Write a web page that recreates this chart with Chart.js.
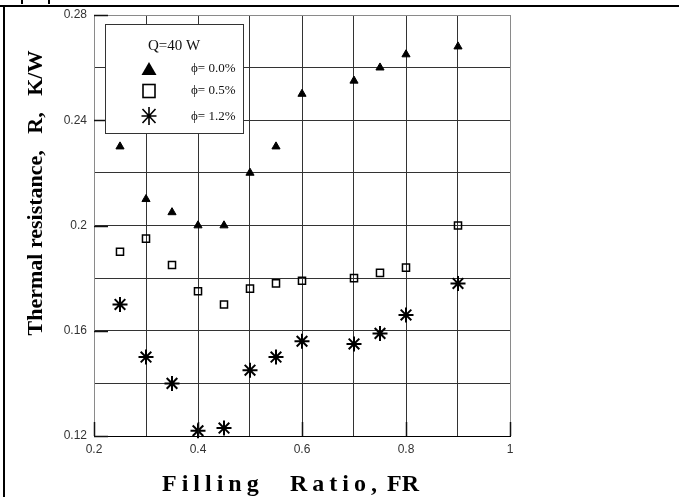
<!DOCTYPE html>
<html><head><meta charset="utf-8">
<script src="https://cdn.jsdelivr.net/npm/chart.js@4"></script>
<style>html,body{margin:0;padding:0;background:#fff}canvas{display:block}</style>
</head><body>
<canvas id="c" width="679" height="497"></canvas>
<script>
const fillingRatio = [0.25, 0.3, 0.35, 0.4, 0.45, 0.5, 0.55, 0.6, 0.7, 0.75, 0.8, 0.9];
const phi00 = [0.230, 0.210, 0.205, 0.200, 0.200, 0.220, 0.230, 0.250, 0.255, 0.260, 0.265, 0.268];
const phi05 = [0.190, 0.195, 0.185, 0.175, 0.170, 0.176, 0.178, 0.179, 0.180, 0.182, 0.184, 0.200];
const phi12 = [0.170, 0.150, 0.140, 0.122, 0.123, 0.145, 0.150, 0.156, 0.155, 0.159, 0.166, 0.178];
const seriesLabels = ['ϕ= 0.0%', 'ϕ= 0.5%', 'ϕ= 1.2%'];
const legendTitle = 'Q=40 W';
const xTickLabels = ['0.2', '0.4', '0.6', '0.8', '1'];
const yTickLabels = ['0.12', '0.16', '0.2', '0.24', '0.28'];
const xTitleWords = ['Filling', 'Ratio,', 'FR'];
const yTitle = 'Thermal resistance,   R,   K/W';

const toPts = ys => fillingRatio.map((x, i) => ({x: x, y: ys[i]}));
const pick = (labels, v) => {
  const s = labels.find(l => Math.abs(parseFloat(l) - v) < 1e-9);
  return s !== undefined ? s : '';
};
const GRID = '#333', EDGE = '#8a8a8a';

const decor = {
  id: 'decor',
  afterDraw(chart) {
    const ctx = chart.ctx, xs = chart.scales.x, ys = chart.scales.y, a = chart.chartArea;
    ctx.save();
    // inward major ticks
    ctx.strokeStyle = '#111'; ctx.lineWidth = 1.5;
    yTickLabels.forEach(l => {
      const y = Math.round(ys.getPixelForValue(parseFloat(l))) + 0.5;
      ctx.beginPath(); ctx.moveTo(a.left, y); ctx.lineTo(a.left + 14, y); ctx.stroke();
    });
    xTickLabels.forEach(l => {
      const x = Math.round(xs.getPixelForValue(parseFloat(l))) + 0.5;
      ctx.beginPath(); ctx.moveTo(x, a.bottom); ctx.lineTo(x, a.bottom - 14); ctx.stroke();
    });
    // legend box
    const bx = 105, by = 24, bw = 138, bh = 109;
    ctx.fillStyle = '#fff'; ctx.fillRect(bx, by, bw, bh);
    ctx.strokeStyle = '#333'; ctx.lineWidth = 1;
    ctx.strokeRect(bx + 0.5, by + 0.5, bw, bh);
    ctx.fillStyle = '#111';
    ctx.font = '15px "Liberation Serif", serif';
    ctx.textAlign = 'center'; ctx.textBaseline = 'middle';
    ctx.fillText(legendTitle, 174, 46);
    ctx.font = '13px "Liberation Serif", "DejaVu Serif", serif';
    ctx.textAlign = 'left';
    const rows = [69, 91, 117];
    rows.forEach((ry, i) => ctx.fillText(seriesLabels[i], 191, ry));
    const mx = 149;
    // triangle
    ctx.beginPath(); ctx.moveTo(mx, rows[0] - 7); ctx.lineTo(mx + 7.5, rows[0] + 6); ctx.lineTo(mx - 7.5, rows[0] + 6); ctx.closePath();
    ctx.fillStyle = '#000'; ctx.fill();
    // square
    ctx.strokeStyle = '#000'; ctx.lineWidth = 1.6;
    ctx.strokeRect(mx - 6, rows[1] - 6.5, 12, 13);
    // asterisk
    const sy = rows[2] - 1;
    ctx.lineWidth = 1.6; ctx.beginPath();
    ctx.moveTo(mx, sy - 9); ctx.lineTo(mx, sy + 9);
    ctx.moveTo(mx - 7.5, sy); ctx.lineTo(mx + 7.5, sy);
    ctx.moveTo(mx - 6.5, sy - 7); ctx.lineTo(mx + 6.5, sy + 7);
    ctx.moveTo(mx + 6.5, sy - 7); ctx.lineTo(mx - 6.5, sy + 7);
    ctx.stroke();
    // axis titles
    ctx.fillStyle = '#000';
    ctx.font = 'bold 22px "Liberation Serif", serif';
    ctx.textBaseline = 'alphabetic';
    ctx.save();
    ctx.translate(42, 193); ctx.rotate(-Math.PI / 2);
    ctx.textAlign = 'center';
    ctx.fillText(yTitle, 0, 0);
    ctx.restore();
    ctx.font = 'bold 24px "Liberation Serif", serif';
    ctx.textAlign = 'left';
    ctx.letterSpacing = '5px'; ctx.fillText(xTitleWords[0], 162, 491);
    ctx.letterSpacing = '5px'; ctx.fillText(xTitleWords[1], 290, 491);
    ctx.letterSpacing = '0px'; ctx.fillText(xTitleWords[2], 387, 491);
    // outer frame
    ctx.fillStyle = '#000';
    ctx.fillRect(0, 5, 679, 2);
    ctx.fillRect(3, 5, 2, 492);
    ctx.fillRect(21, 0, 2, 4);
    ctx.fillRect(48, 0, 2, 4);
    ctx.restore();
  }
};

new Chart(document.getElementById('c'), {
  type: 'scatter',
  data: {
    datasets: [
      {label: seriesLabels[0], data: toPts(phi00), pointStyle: 'triangle', pointRadius: 4.7,
       backgroundColor: '#000', borderColor: '#000', borderWidth: 1, clip: false},
      {label: seriesLabels[1], data: toPts(phi05), pointStyle: 'rect', pointRadius: 5,
       backgroundColor: 'rgba(0,0,0,0)', borderColor: '#000', borderWidth: 1.5, clip: false},
      {label: seriesLabels[2], data: toPts(phi12), pointStyle: 'star', pointRadius: 7.5,
       backgroundColor: '#000', borderColor: '#000', borderWidth: 2, clip: false}
    ]
  },
  options: {
    responsive: false,
    animation: false,
    devicePixelRatio: 1,
    layout: {padding: {left: 0, right: 169, top: 15, bottom: 0}},
    plugins: {legend: {display: false}, tooltip: {enabled: false}},
    events: [],
    scales: {
      x: {
        type: 'linear', min: 0.2, max: 1.0,
        afterFit: s => { s.height = 61; },
        ticks: {stepSize: 0.1, autoSkip: false, maxRotation: 0, padding: 6,
                color: '#333', font: {family: '"Liberation Sans", Arial, sans-serif', size: 12},
                callback: v => pick(xTickLabels, v)},
        grid: {drawTicks: false, lineWidth: 1,
               color: c => (c.tick && (Math.abs(c.tick.value - 1) < 1e-9 || Math.abs(c.tick.value - 0.2) < 1e-9)) ? EDGE : GRID},
        border: {color: '#000', width: 1}
      },
      y: {
        type: 'linear', min: 0.12, max: 0.28,
        afterFit: s => { s.width = 94; },
        ticks: {stepSize: 0.02, autoSkip: false, padding: 7,
                color: '#333', font: {family: '"Liberation Sans", Arial, sans-serif', size: 12},
                callback: v => pick(yTickLabels, v)},
        grid: {drawTicks: false, lineWidth: 1,
               color: c => (c.tick && Math.abs(c.tick.value - 0.28) < 1e-9) ? EDGE : (c.tick && Math.abs(c.tick.value - 0.12) < 1e-9 ? '#000' : GRID)},
        border: {color: EDGE, width: 1}
      }
    }
  },
  plugins: [decor]
});
</script>
</body></html>
